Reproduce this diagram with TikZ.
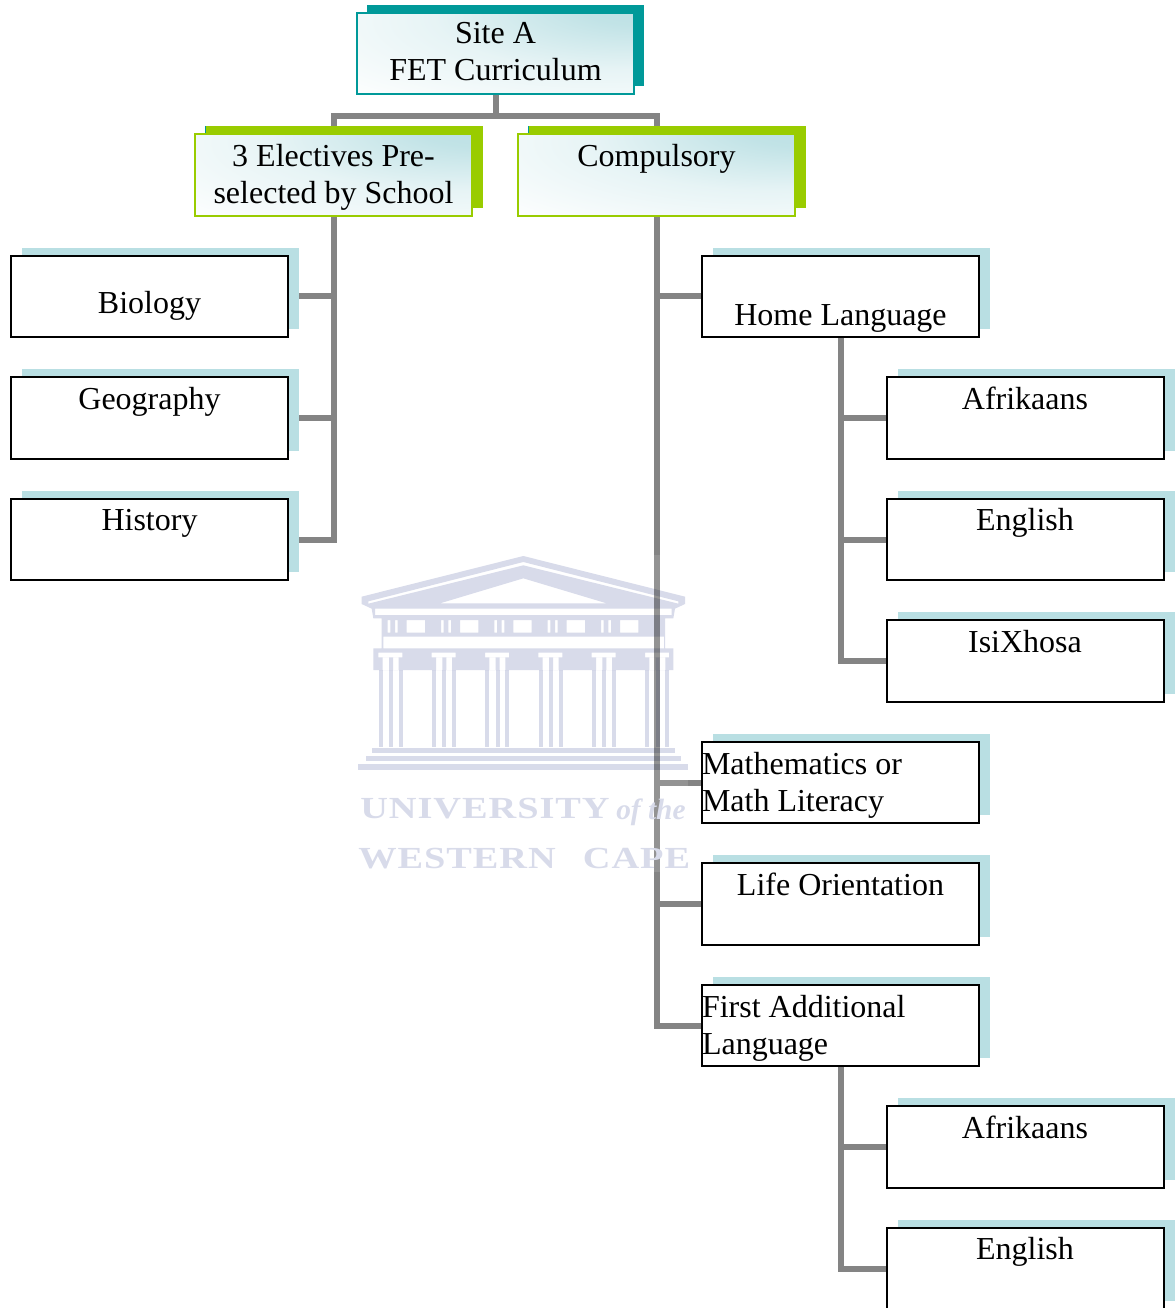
\documentclass[tikz,border=0pt]{standalone}
\usepackage{fontspec}
\setmainfont{Liberation Serif}
\newfontfamily\crestfont[LetterSpace=2.5]{Liberation Serif}
\usetikzlibrary{shadows,backgrounds}

\definecolor{teal1}{HTML}{009999}
\definecolor{lime1}{HTML}{99CC00}
\definecolor{pale1}{HTML}{B9DFE3}
\definecolor{stem1}{HTML}{848484}
\definecolor{crest1}{HTML}{D8DBEA}

\pgfdeclareradialshading{glow}{\pgfpoint{31bp}{33bp}}{
  color(0bp)=(pale1); color(12bp)=(pale1!88!white); color(32bp)=(pale1!35!white); color(58bp)=(white); color(100bp)=(white)}

\begin{document}
\begin{tikzpicture}[x=0.75pt,y=-0.75pt]
        \tikzstyle{every node}=[inner sep=0pt, font=\fontsize{24}{27.7}\selectfont]
        \tikzstyle{hightext}=[text height=24pt, text depth=37.1pt]
        \tikzstyle{lowtext}=[text height=43.5pt, text depth=17.6pt]
        \tikzstyle{basetext}=[text height=52.5pt, text depth=8.6pt]
        \tikzstyle{topbox}=[draw=teal1, line width=1.5pt, shading=glow, text width=207.75pt, align=flush center, minimum height=61.1pt,
            text height=23.25pt, text depth=37.85pt,
            drop shadow={shadow xshift=7.75pt, shadow yshift=6pt, fill=teal1, opacity=1}]
        \tikzstyle{midbox}=[topbox, draw=lime1, hightext,
            drop shadow={shadow xshift=8.25pt, shadow yshift=6pt, fill=lime1, opacity=1}]
        \tikzstyle{leafbox}=[draw=black, line width=1.5pt, fill=white, minimum width=207.75pt, minimum height=61.1pt,
            drop shadow={shadow xshift=8.25pt, shadow yshift=6pt, fill=pale1, opacity=1}]
        \tikzstyle{lefttext}=[text width=207.75pt, align=flush left, text height=24.75pt, text depth=36.35pt]
        \tikzstyle{stem}=[draw=stem1, line width=4.5pt]
        \tikzstyle{cresttext}=[anchor=base west, text=crest1, transform shape, xscale=1.25]

        \useasboundingbox (0,0) rectangle (1174,1308);

        \node (site)       [topbox]  at (495.5,53.5) {Site A\\FET Curriculum};
        \node (electives)  [midbox]  at (333.5,175) {3 Electives Pre-\\selected by School};
        \node (compulsory) [midbox]  at (656.5,175) {Compulsory};

        \node (biology)   [leafbox, lowtext]  at (149.5,296.5) {Biology};
        \node (geography) [leafbox, hightext] at (149.5,418) {Geography};
        \node (history)   [leafbox, hightext] at (149.5,539.5) {History};

        \node (home)     [leafbox, basetext] at (840.5,296.5) {Home Language};
        \node (afrik)    [leafbox, hightext] at (1025,418) {Afrikaans};
        \node (english)  [leafbox, hightext] at (1025,539.5) {English};
        \node (xhosa)    [leafbox, hightext] at (1025,661) {IsiXhosa};

        \node (maths)    [leafbox, lefttext] at (840.5,782.5) {Mathematics or\\Math Literacy};
        \node (life)     [leafbox, hightext] at (840.5,904) {Life Orientation};
        \node (first)    [leafbox, lefttext] at (840.5,1025.5) {First Additional\\Language};
        \node (afrikb)   [leafbox, hightext] at (1025,1147) {Afrikaans};
        \node (englishb) [leafbox, hightext] at (1025,1268.5) {English};

        % tree lines
        \begin{scope}[on background layer]
            \draw[stem] (site.south) -- ++(0,21) coordinate (fork);
            \draw[stem] (fork) -| (electives.north);
            \draw[stem] (fork) -| (compulsory.north);
            \foreach \leaf in {biology,geography,history}
                \draw[stem] (electives.south) |- (\leaf.east);
            \foreach \leaf in {home,maths,life,first}
                \draw[stem] (compulsory.south) |- (\leaf.west);
            \foreach \leaf in {afrik,english,xhosa}
                \draw[stem] (home.south) |- (\leaf.west);
            \foreach \leaf in {afrikb,englishb}
                \draw[stem] (first.south) |- (\leaf.west);
            \fill[white, opacity=.13] (358,555) rectangle (688,872);
        \end{scope}

        % crest
        \begin{scope}[shift={(340,540)},x=0.25pt,y=-0.25pt,blend mode=multiply]
            \fill[crest1, even odd rule]
                (65,170) -- (550,48) -- (1035,170) -- (1035,192) -- (1005,206) -- (1000,235) -- (975,235) -- (975,325) -- (1000,325) -- (1000,390)
                -- (100,390) -- (100,325) -- (125,325) -- (125,235) -- (100,235) -- (95,206) -- (65,192) -- cycle
                (85,184) -- (550,66) -- (1015,184) -- (1015,191) -- (550,76) -- (85,191) -- cycle
                (300,190) -- (550,115) -- (800,190) -- cycle
                (105,206) rectangle (995,225)
                (130,290) rectangle (972,325)
                \foreach \i in {0,...,4} {
                    (200+160*\i,240) rectangle ++(55,38)
                    (143+160*\i,240) rectangle ++(8,38)
                    (165+160*\i,240) rectangle ++(8,38)
                }
                \foreach \i in {0,...,5} {
                    (115+160*\i,338) rectangle ++(72,14)
                    (128+160*\i,352) rectangle ++(19,38)
                    (159+160*\i,352) rectangle ++(17,38)
                };
            \foreach \i in {0,...,5} {
                \fill[crest1] (116+160*\i,390) rectangle ++(12,232);
                \fill[crest1] (147+160*\i,390) rectangle ++(12,232);
                \fill[crest1] (176+160*\i,390) rectangle ++(12,232);
            }
            \fill[crest1] (95,625) rectangle (1005,640);
            \fill[crest1] (78,648) rectangle (1022,662);
            \fill[crest1] (55,672) rectangle (1045,690);
        \end{scope}
        \begin{scope}[blend group=multiply]
            \node (crestA) [cresttext, font=\fontsize{23}{30}\crestfont\bfseries] at (360,818) {UNIVERSITY};
            \node (crestB) [anchor=base west, text=crest1, font=\fontsize{22}{30}\rmfamily\bfseries\itshape] at (616,819) {of the};
            \node (crestC) [cresttext, font=\fontsize{23}{30}\crestfont\bfseries] at (358,868) {WESTERN\hspace{10pt} CAPE};
        \end{scope}
    \end{tikzpicture}
\end{document}
